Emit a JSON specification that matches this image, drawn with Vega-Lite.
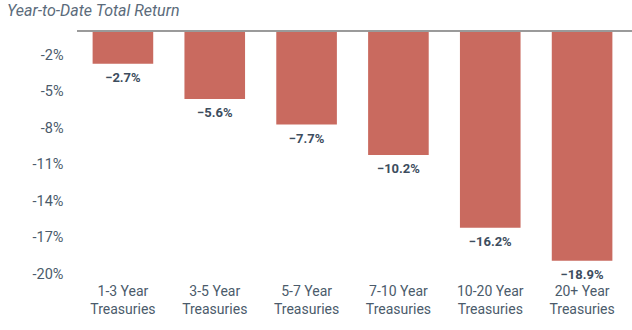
{
  "$schema": "https://vega.github.io/schema/vega-lite/v6.json",
  "width": 551,
  "height": 243,
  "autosize": "none",
  "padding": {"left": 77, "top": 31, "right": 4, "bottom": 56},
  "background": "white",
  "config": {"view": {"stroke": null}, "font": "Roboto"},
  "title": {
    "text": "Year-to-Date Total Return",
    "anchor": "start",
    "frame": "group",
    "dx": -70,
    "offset": 12,
    "fontSize": 16,
    "fontStyle": "italic",
    "fontWeight": "normal",
    "color": "#5b6b7b",
    "font": "Roboto"
  },
  "data": {
    "values": [
      {"category": "1-3 Year Treasuries", "ret": -2.7},
      {"category": "3-5 Year Treasuries", "ret": -5.6},
      {"category": "5-7 Year Treasuries", "ret": -7.7},
      {"category": "7-10 Year Treasuries", "ret": -10.2},
      {"category": "10-20 Year Treasuries", "ret": -16.2},
      {"category": "20+ Year Treasuries", "ret": -18.9}
    ]
  },
  "encoding": {
    "x": {
      "field": "category",
      "type": "nominal",
      "sort": null,
      "scale": {"paddingInner": 0.34, "paddingOuter": 0.17},
      "axis": {
        "title": null,
        "orient": "bottom",
        "labelAngle": 0,
        "ticks": false,
        "domain": false,
        "labelPadding": 10,
        "labelFontSize": 14,
        "labelColor": "#4b5b6b",
        "labelLineHeight": 18,
        "labelExpr": "[replace(datum.value, ' Treasuries', ''), 'Treasuries']"
      }
    }
  },
  "layer": [
    {
      "mark": {"type": "bar", "color": "#c96a5f"},
      "encoding": {
        "y": {
          "field": "ret",
          "type": "quantitative",
          "scale": {"domain": [-20, 0], "nice": false, "zero": true},
          "axis": {
            "title": null,
            "values": [-2, -5, -8, -11, -14, -17, -20],
            "labelExpr": "datum.value + '%'",
            "grid": false,
            "ticks": false,
            "domain": false,
            "labelPadding": 14,
            "labelFontSize": 14.5,
            "labelColor": "#4b5b6b"
          }
        }
      }
    },
    {
      "transform": [{"calculate": "format(datum.ret, '.1f') + '%'", "as": "lbl"}],
      "mark": {"type": "text", "baseline": "top", "dy": 8, "fontWeight": "bold", "fontSize": 13, "color": "#3d4d5e"},
      "encoding": {
        "y": {"field": "ret", "type": "quantitative"},
        "text": {"field": "lbl", "type": "nominal"}
      }
    },
    {
      "mark": {"type": "rule", "color": "#999999", "strokeWidth": 1},
      "encoding": {"y": {"datum": 0}, "x": {"value": 0}, "x2": {"value": 555}}
    }
  ]
}
